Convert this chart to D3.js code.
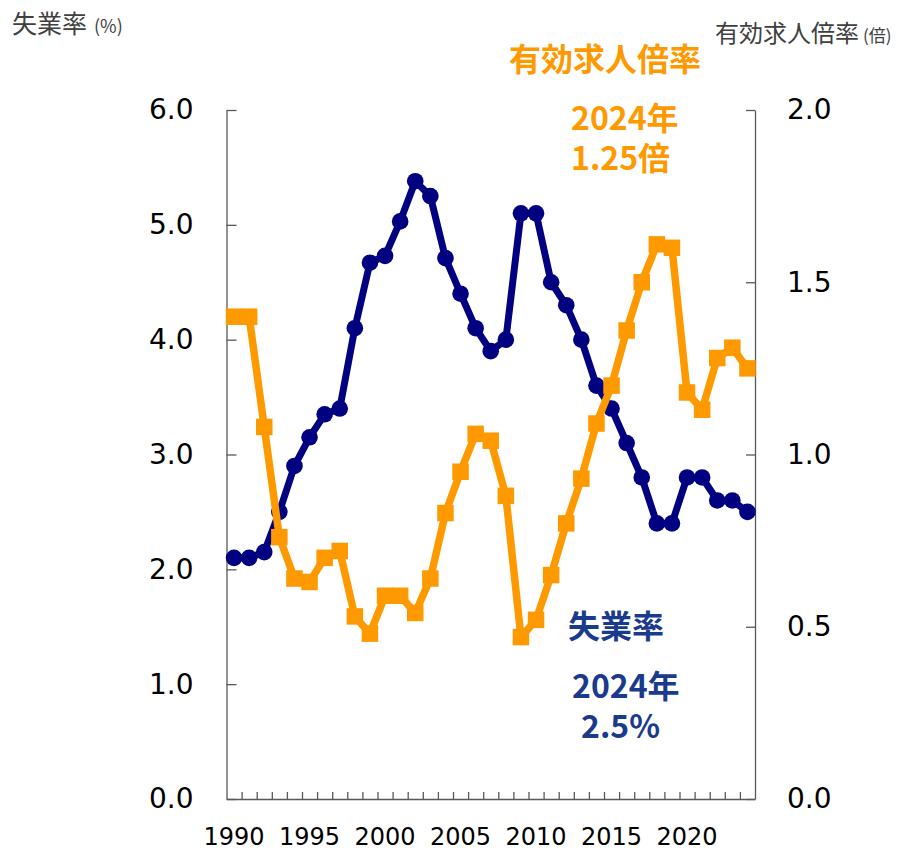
<!DOCTYPE html>
<html>
<head>
<meta charset="utf-8">
<script src="https://cdn.jsdelivr.net/npm/d3@7"></script>
<style>
  body { margin: 0; background: #fff; }
  svg { display: block; }
  .axis path, .axis line { stroke: #595959; stroke-width: 1.3; }
  .axis text { font-family: "DejaVu Sans", Verdana, sans-serif; fill: #000; }
</style>
</head>
<body>
<svg width="902" height="852"></svg>
<script>
// data
var years = d3.range(1990, 2025);
var unemployment = [2.1, 2.1, 2.15, 2.5, 2.9, 3.15, 3.35, 3.4, 4.1, 4.67,
  4.73, 5.03, 5.38, 5.25, 4.71, 4.4, 4.1, 3.9, 4.0, 5.1,
  5.1, 4.5, 4.3, 4.0, 3.6, 3.4, 3.1, 2.8, 2.4, 2.4,
  2.8, 2.8, 2.6, 2.6, 2.5];
var jobRatio = [1.40, 1.40, 1.08, 0.76, 0.64, 0.63, 0.70, 0.72, 0.53, 0.48,
  0.59, 0.59, 0.54, 0.64, 0.83, 0.95, 1.06, 1.04, 0.88, 0.47,
  0.52, 0.65, 0.80, 0.93, 1.09, 1.20, 1.36, 1.50, 1.61, 1.60,
  1.18, 1.13, 1.28, 1.31, 1.25];
var labelYears = [1990, 1995, 2000, 2005, 2010, 2015, 2020];
var leftTicks = [0, 1, 2, 3, 4, 5, 6];
var rightTicks = [0, 0.5, 1, 1.5, 2];

var navy = "#000080", orange = "#FF9900", navyText = "#1a3b8b", gray = "#404040";
var cjk = "'Noto Sans CJK JP', 'Noto Sans', sans-serif";

var svg = d3.select("svg");
var plotLeft = 226.5, plotRight = 755, plotTop = 110, plotBottom = 799;

var x = d3.scaleBand().domain(years).range([plotLeft, plotRight]).padding(0);
var xb = d3.scaleLinear().domain([1989.5, 2024.5]).range([plotLeft, plotRight]); // category boundaries
var yL = d3.scaleLinear().domain([0, 6]).range([plotBottom, plotTop]);
var yR = d3.scaleLinear().domain([0, 2]).range([plotBottom, plotTop]);
var cx = function(i) { return x(years[i]) + x.bandwidth() / 2; };

// axes
var gl = svg.append("g").attr("class", "axis")
  .attr("transform", "translate(" + plotLeft + ",0)")
  .call(d3.axisLeft(yL).tickValues(leftTicks).tickFormat(d3.format(".1f"))
    .tickSize(-10).tickSizeOuter(0).tickPadding(33));
gl.selectAll("text").style("font-size", "28px");

var gr = svg.append("g").attr("class", "axis")
  .attr("transform", "translate(" + plotRight + ",0)")
  .call(d3.axisRight(yR).tickValues(rightTicks).tickFormat(d3.format(".1f"))
    .tickSize(-9).tickSizeOuter(0).tickPadding(32));
gr.selectAll("text").style("font-size", "28px");

svg.append("g").attr("class", "axis")
  .attr("transform", "translate(0," + plotBottom + ")")
  .call(d3.axisBottom(xb).tickValues(d3.range(1990.5, 2024.5, 1))
    .tickFormat("").tickSize(-7).tickSizeOuter(0));

var gb = svg.append("g").attr("class", "axis")
  .attr("transform", "translate(0," + plotBottom + ")")
  .call(d3.axisBottom(x).tickValues(labelYears).tickSize(0).tickPadding(29));
gb.select(".domain").remove();
gb.selectAll("text").style("font-size", "24px");

// unemployment line
var lineU = d3.line().x(function(d, i) { return cx(i); }).y(function(d) { return yL(d); });
svg.append("path").datum(unemployment)
  .attr("d", lineU).attr("fill", "none")
  .attr("stroke", navy).attr("stroke-width", 7).attr("stroke-linejoin", "round");
svg.selectAll("circle.u").data(unemployment).enter().append("circle")
  .attr("class", "u")
  .attr("cx", function(d, i) { return cx(i); })
  .attr("cy", function(d) { return yL(d); })
  .attr("r", 8.3).attr("fill", navy);

// job ratio line
var lineJ = d3.line().x(function(d, i) { return cx(i); }).y(function(d) { return yR(d); });
svg.append("path").datum(jobRatio)
  .attr("d", lineJ).attr("fill", "none")
  .attr("stroke", orange).attr("stroke-width", 7.5).attr("stroke-linejoin", "round");
var s = 16.5;
svg.selectAll("rect.j").data(jobRatio).enter().append("rect")
  .attr("class", "j")
  .attr("x", function(d, i) { return cx(i) - s / 2; })
  .attr("y", function(d) { return yR(d) - s / 2; })
  .attr("width", s).attr("height", s).attr("fill", orange);

// axis titles
var t1 = svg.append("text").attr("x", 12).attr("y", 33)
  .attr("font-family", cjk).attr("fill", gray).style("font-size", "25px");
t1.append("tspan").text("失業率");
t1.append("tspan").attr("dx", 7).style("font-size", "18px").text("(%)");

var t2 = svg.append("text").attr("x", 715).attr("y", 42)
  .attr("font-family", cjk).attr("fill", gray).style("font-size", "24px");
t2.append("tspan").text("有効求人倍率");
t2.append("tspan").attr("dx", 4).style("font-size", "17px").text("(倍)");

// annotations
function note(txt, xx, yy, size, color) {
  svg.append("text").attr("x", xx).attr("y", yy)
    .attr("font-family", cjk).attr("font-weight", "bold")
    .attr("fill", color).style("font-size", size + "px").text(txt);
}
note("有効求人倍率", 509, 71, 32, orange);
note("2024年", 571, 130, 32, orange);
note("1.25倍", 571, 170, 32, orange);
note("失業率", 568, 638, 32, navyText);
note("2024年", 572, 698, 32, navyText);
note("2.5%", 581, 738, 32, navyText);
</script>
</body>
</html>
